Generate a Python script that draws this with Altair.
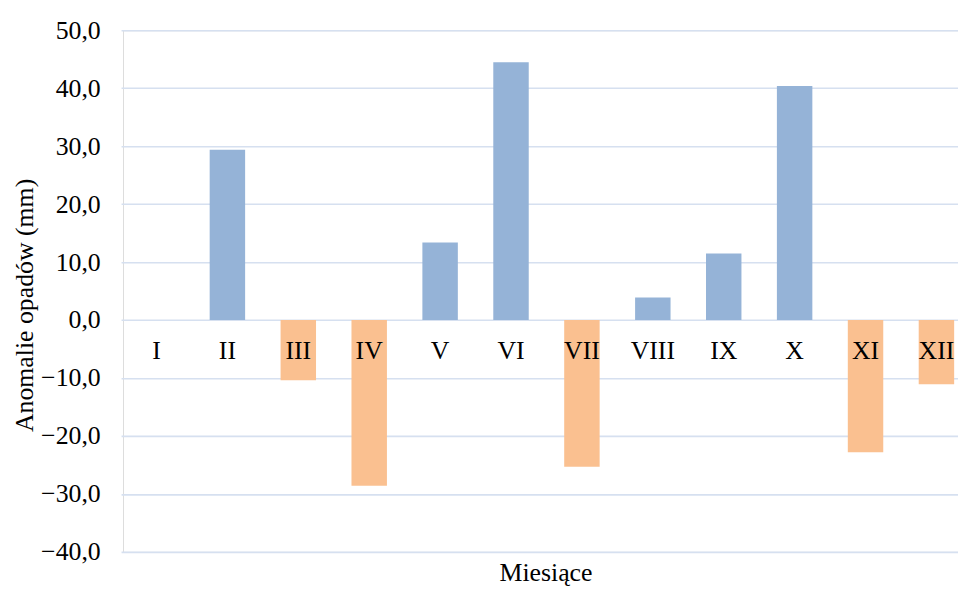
import altair as alt
import pandas as pd

months = ["I", "II", "III", "IV", "V", "VI", "VII", "VIII", "IX", "X", "XI", "XII"]
values = [0.0, 29.4, -10.4, -28.6, 13.4, 44.5, -25.3, 3.9, 11.5, 40.4, -22.8, -11.1]
y_ticks = [-40, -30, -20, -10, 0, 10, 20, 30, 40, 50]

df = pd.DataFrame({"month": months, "value": values})
df["sign"] = ["pos" if v >= 0 else "neg" for v in values]
df["zero"] = 0

FONT = "Liberation Serif, Times New Roman, serif"
FS = 26

x_enc = alt.X(
    "month:N",
    sort=months,
    scale=alt.Scale(range=[-2, 856], paddingInner=0.5, paddingOuter=0.25),
    axis=alt.Axis(
        labels=False, ticks=False, domain=False, grid=False,
        title="Miesiące", titleFont=FONT, titleFontSize=FS, titleFontWeight="normal",
        titleColor="black", titleX=426, titleY=29, titleAlign="center",
        titleBaseline="alphabetic",
    ),
)

y_scale = alt.Scale(domain=[-40, 50], nice=False)

bars = alt.Chart(df).mark_bar().encode(
    x=x_enc,
    y=alt.Y(
        "value:Q",
        scale=y_scale,
        axis=alt.Axis(
            values=y_ticks, domain=False, ticks=False, grid=True,
            gridColor="#d6e0f0", gridWidth=1.6,
            labelFont=FONT, labelFontSize=FS, labelColor="black", labelPadding=23,
            labelExpr="replace(format(datum.value, '.1f'), '.', ',')",
            title="Anomalie opadów (mm)", titleFont=FONT, titleFontSize=FS,
            titleFontWeight="normal", titleColor="black",
            titleX=-99, titleY=277, titleAlign="center", titleBaseline="middle",
            titleAngle=270,
        ),
    ),
    y2=alt.Y2("zero:Q"),
    color=alt.Color("sign:N", scale=alt.Scale(domain=["pos", "neg"], range=["#95b3d7", "#fac090"]), legend=None),
)

labels = alt.Chart(df).mark_text(
    font=FONT, fontSize=FS, color="black", baseline="alphabetic", align="center", dy=39
).encode(
    x=alt.X("month:N", sort=months),
    y=alt.Y("zero:Q", scale=y_scale),
    text="month:N",
)

chart = alt.layer(bars, labels).properties(
    width=842, height=526,
    autosize=alt.AutoSizeParams(type="none"),
    padding={"left": 116, "top": 20, "right": 0, "bottom": 35},
).configure_view(stroke=None).configure(background="white")

chart.save("out.html", embed_options={"renderer": "svg", "actions": False})
